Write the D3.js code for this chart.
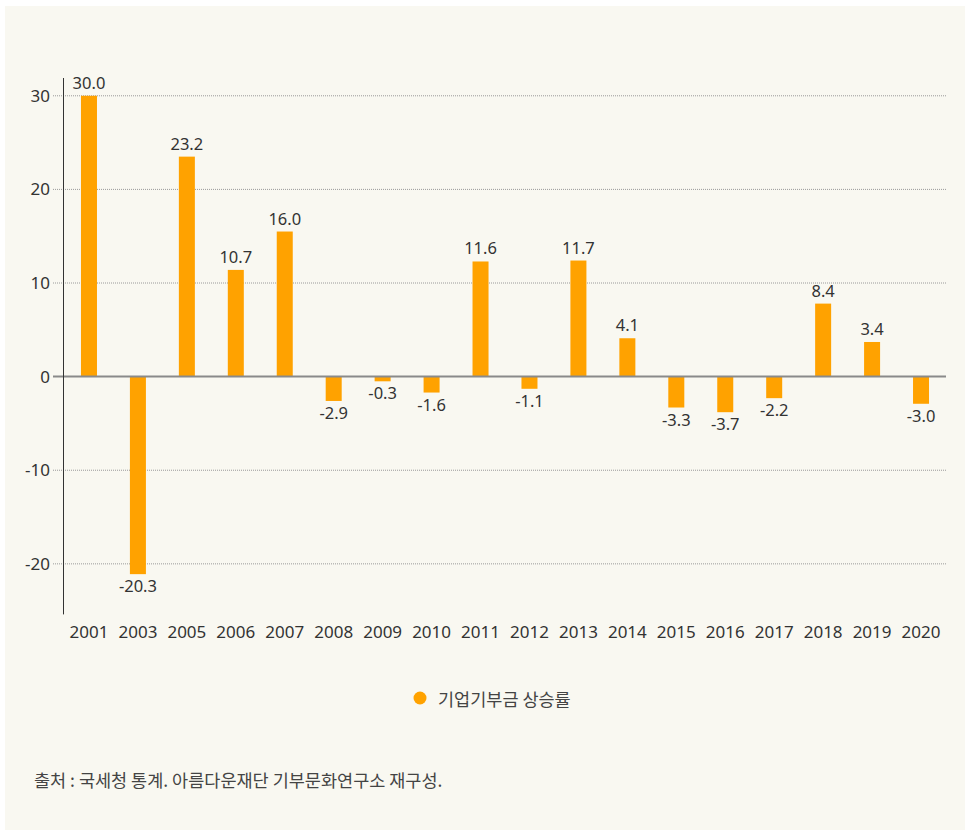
<!DOCTYPE html>
<html>
<head>
<meta charset="utf-8">
<script src="https://cdn.jsdelivr.net/npm/d3@7"></script>
<style>
  html, body { margin: 0; padding: 0; background: #fff; }
  text { font-family: "Noto Sans", "Noto Sans CJK KR", sans-serif; }
</style>
</head>
<body>
<div id="chart"></div>
<script>
// Years shown on the x axis (2002, 2004 are not in the source)
const years = ['2001', '2003', '2005', '2006', '2007', '2008', '2009', '2010', '2011',
  '2012', '2013', '2014', '2015', '2016', '2017', '2018', '2019', '2020'];

// Bar heights as drawn in the picture
const barValues = [30.0, -21.1, 23.5, 11.4, 15.5, -2.6, -0.5, -1.7, 12.3,
  -1.3, 12.4, 4.1, -3.3, -3.8, -2.3, 7.8, 3.7, -2.9];

// Printed value labels
const valueLabels = ['30.0', '-20.3', '23.2', '10.7', '16.0', '-2.9', '-0.3', '-1.6', '11.6',
  '-1.1', '11.7', '4.1', '-3.3', '-3.7', '-2.2', '8.4', '3.4', '-3.0'];

const yTicks = [-20, -10, 0, 10, 20, 30];
const seriesName = '기업기부금 상승률';
const sourceNote = '출처 : 국세청 통계. 아름다운재단 기부문화연구소 재구성.';

const W = 970;
const H = 830;
const barColor = '#ffa200';
const textColor = '#333';

const svg = d3.select('#chart')
  .append('svg')
  .attr('width', W)
  .attr('height', H);

// Off-white panel behind everything
svg.append('rect')
  .attr('x', 5).attr('y', 6)
  .attr('width', 960).attr('height', 824)
  .attr('fill', '#f9f8f1');

const x = d3.scaleBand()
  .domain(years)
  .range([64.5, 945.5])
  .paddingInner(0.673)
  .paddingOuter(0.3365);

const y = d3.scaleLinear()
  .domain([-25.4, 31.9])
  .range([614.4, 78]);

// Dotted grid lines
svg.append('g')
  .selectAll('line')
  .data(yTicks.filter((d) => d !== 0))
  .enter()
  .append('line')
  .attr('x1', 53)
  .attr('x2', 946)
  .attr('y1', (d) => y(d))
  .attr('y2', (d) => y(d))
  .attr('stroke', '#9a9a9a')
  .attr('stroke-width', 1)
  .attr('stroke-dasharray', '1,1');

// Y axis tick labels
const yAxis = svg.append('g')
  .attr('transform', 'translate(63,0)')
  .call(d3.axisLeft(y).tickValues(yTicks).tickSize(0).tickPadding(13).tickFormat((d) => String(d)));
yAxis.select('.domain').remove();
yAxis.selectAll('text')
  .attr('font-size', 17)
  .attr('fill', textColor)
  .style('font-family', '"Noto Sans", sans-serif');

// Bars
svg.append('g')
  .selectAll('rect')
  .data(barValues)
  .enter()
  .append('rect')
  .attr('x', (d, i) => x(years[i]))
  .attr('width', x.bandwidth())
  .attr('y', (d) => y(Math.max(0, d)))
  .attr('height', (d) => Math.abs(y(d) - y(0)))
  .attr('fill', barColor);

// Zero line on top of the bars
svg.append('line')
  .attr('x1', 53)
  .attr('x2', 946)
  .attr('y1', y(0))
  .attr('y2', y(0))
  .attr('stroke', '#8a8a8a')
  .attr('stroke-width', 2);

// Vertical axis line
svg.append('line')
  .attr('x1', 63.5)
  .attr('x2', 63.5)
  .attr('y1', y(31.9))
  .attr('y2', y(-25.4))
  .attr('stroke', '#333')
  .attr('stroke-width', 1);

// Value labels
svg.append('g')
  .selectAll('text')
  .data(barValues)
  .enter()
  .append('text')
  .attr('x', (d, i) => x(years[i]) + x.bandwidth() / 2)
  .attr('y', (d) => (d >= 0 ? y(d) - 7 : y(d) + 18))
  .attr('text-anchor', 'middle')
  .attr('font-size', 16.5)
  .attr('fill', textColor)
  .text((d, i) => valueLabels[i]);

// X axis labels
const xAxis = svg.append('g')
  .attr('transform', 'translate(0,614)')
  .call(d3.axisBottom(x).tickSize(0).tickPadding(12));
xAxis.select('.domain').remove();
xAxis.selectAll('text')
  .attr('font-size', 17)
  .attr('fill', textColor)
  .style('font-family', '"Noto Sans", sans-serif');

// Legend
const legend = svg.append('g').attr('transform', 'translate(420,698)');
legend.append('circle')
  .attr('r', 6.5)
  .attr('fill', barColor);
legend.append('text')
  .attr('x', 18)
  .attr('y', 2)
  .attr('dy', '0.35em')
  .attr('font-size', 17.5)
  .attr('fill', '#444')
  .style('font-family', '"Noto Sans CJK KR", sans-serif')
  .text(seriesName);

// Source note
svg.append('text')
  .attr('x', 34)
  .attr('y', 781)
  .attr('dy', '0.35em')
  .attr('font-size', 17.5)
  .attr('fill', '#444')
  .style('font-family', '"Noto Sans CJK KR", sans-serif')
  .text(sourceNote);
</script>
</body>
</html>
